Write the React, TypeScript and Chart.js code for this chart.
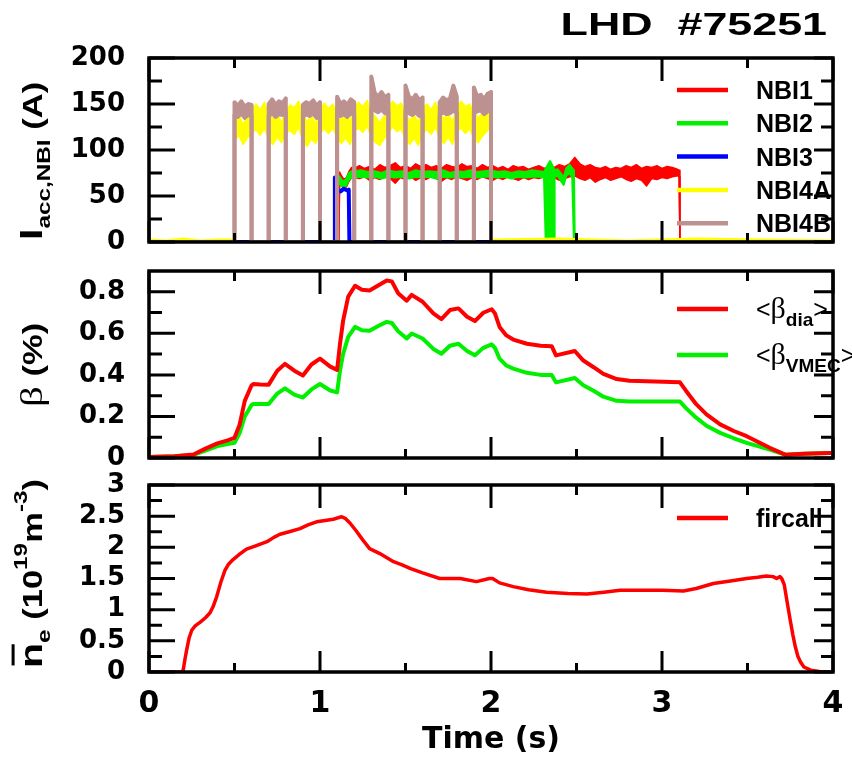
import React, { useEffect, useRef } from 'react';
import { Chart, registerables } from 'chart.js';

Chart.register(...registerables);

const SANS = '"DejaVu Sans", sans-serif';
const HELV = '"Liberation Sans", Arial, sans-serif';
const SERIF = '"Liberation Serif", "DejaVu Serif", serif';

const RED = 'rgb(255,0,0)';
const GREEN = 'rgb(0,240,0)';
const BLUE = 'rgb(0,0,255)';
const YELLOW = 'rgb(255,255,0)';
const BROWN = 'rgb(190,145,145)';

// ---------- x axis ----------
const X_MAJOR = [0, 1, 2, 3, 4];
const X_LABELS = ['0', '1', '2', '3', '4'];
const X_MINOR = [0.5, 1.5, 2.5, 3.5];

// ---------- panel 1 : NBI accelerator currents (A) ----------
const tRed = [
  0, 1.11, 1.115, 1.125, 1.14, 1.155, 1.17, 1.185, 1.2, 1.23,
  1.26, 1.29, 1.32, 1.35, 1.38, 1.41, 1.44, 1.47, 1.5, 1.53,
  1.56, 1.59, 1.62, 1.65, 1.68, 1.71, 1.74, 1.77, 1.8, 1.83,
  1.86, 1.89, 1.92, 1.95, 1.98, 2.01, 2.04, 2.07, 2.1, 2.13,
  2.16, 2.19, 2.22, 2.25, 2.28, 2.31, 2.34, 2.37, 2.4, 2.43,
  2.46, 2.49, 2.52, 2.55, 2.58, 2.61, 2.64, 2.67, 2.7, 2.73,
  2.76, 2.79, 2.82, 2.85, 2.88, 2.91, 2.94, 2.97, 3.0, 3.03,
  3.06, 3.09, 3.1, 3.105, 4,
];
const nbi1Hi = [
  0, 0, 76, 72, 68, 70, 77, 81, 80, 83,
  80, 82, 79, 84, 81, 83, 86, 81, 83, 80,
  85, 82, 84, 81, 83, 80, 84, 82, 81, 85,
  82, 83, 80, 84, 81, 83, 80, 82, 79, 83,
  81, 82, 79, 81, 83, 80, 82, 81, 84, 82,
  85, 92, 85, 82, 84, 81, 80, 82, 79, 81,
  80, 83, 81, 84, 80, 82, 81, 83, 80, 82,
  81, 79, 78, 0, 0,
];
const nbi1Lo = [
  0, 0, 66, 62, 59, 60, 66, 70, 70, 69,
  71, 67, 70, 68, 71, 69, 64, 70, 68, 71,
  67, 70, 68, 71, 69, 66, 70, 68, 71, 69,
  67, 70, 68, 71, 69, 67, 70, 68, 71, 69,
  67, 70, 68, 70, 69, 71, 68, 70, 67, 69,
  71, 72, 69, 67, 70, 65, 68, 70, 67, 69,
  71, 68, 66, 69, 67, 61, 69, 68, 70, 69,
  71, 72, 71, 0, 0,
];

const tGreen = [
  0, 1.09, 1.095, 1.11, 1.125, 1.14, 1.155, 1.17, 1.185, 1.2,
  1.24, 1.28, 1.32, 1.36, 1.4, 1.44, 1.48, 1.52, 1.56, 1.6,
  1.64, 1.68, 1.72, 1.76, 1.8, 1.84, 1.88, 1.92, 1.96, 2.0,
  2.04, 2.08, 2.12, 2.16, 2.2, 2.24, 2.28, 2.31, 2.32, 2.345,
  2.37, 2.372, 2.39, 2.41, 2.425, 2.44, 2.46, 2.475, 2.485, 2.49,
  4,
];
const nbi2Hi = [
  0, 0, 74, 72, 68, 66, 69, 75, 77, 77,
  78, 76, 77, 75, 78, 76, 77, 75, 78, 76,
  77, 76, 78, 75, 77, 76, 78, 76, 77, 78,
  76, 77, 75, 77, 76, 78, 77, 76, 80, 88,
  79, 78, 79, 74, 70, 80, 84, 80, 78, 0,
  0,
];
const nbi2Lo = [
  0, 0, 66, 64, 61, 59, 62, 68, 70, 70,
  71, 70, 71, 69, 71, 70, 71, 69, 71, 70,
  71, 69, 71, 70, 71, 70, 71, 70, 71, 71,
  70, 71, 69, 71, 70, 71, 71, 70, 0, 0,
  0, 71, 72, 66, 62, 72, 75, 70, 0, 0,
  0,
];

const tBlue = [0, 1.085, 1.087, 1.093, 1.1, 1.12, 1.14, 1.16, 1.168, 1.172, 4];
const nbi3 = [0, 0, 70, 60, 57, 55, 58, 56, 57, 0, 0];

const tYellow = [
  0, 0.1, 0.2, 0.3, 0.4, 0.499,
  0.5, 0.525, 0.55, 0.575, 0.6, 0.625, 0.65, 0.675, 0.7, 0.725,
  0.75, 0.775, 0.8, 0.825, 0.85, 0.875, 0.9, 0.925, 0.95, 0.975,
  1.0, 1.025, 1.05, 1.075, 1.1, 1.125, 1.15, 1.175, 1.2, 1.225,
  1.25, 1.275, 1.3, 1.325, 1.35, 1.375, 1.4, 1.425, 1.45, 1.475,
  1.5, 1.525, 1.55, 1.575, 1.6, 1.625, 1.65, 1.675, 1.7, 1.725,
  1.75, 1.775, 1.8, 1.825, 1.85, 1.875, 1.9, 1.925, 1.95, 1.975,
  2.0,
  2.003, 2.4, 2.8, 3.2, 3.6, 4,
];
const nbi4aHi = [
  3, 2, 4, 2, 3, 3,
  132, 138, 128, 136, 142, 150, 144, 152, 140, 134,
  139, 130, 143, 149, 146, 153, 138, 131, 137, 129,
  144, 151, 145, 150, 140, 133, 138, 131, 145, 152,
  147, 154, 141, 136, 130, 137, 146, 153, 148, 151,
  139, 132, 138, 130, 145, 150, 144, 152, 140, 134,
  139, 131, 146, 153, 147, 150, 141, 135, 140, 150,
  158,
  3, 4, 2, 4, 3, 2,
];
const nbi4aLo = [
  0, 0, 0, 0, 0, 0,
  110, 116, 106, 113, 118, 122, 116, 124, 112, 106,
  114, 108, 119, 121, 117, 125, 110, 104, 112, 107,
  118, 123, 118, 124, 113, 107, 113, 106, 120, 124,
  119, 126, 114, 108, 105, 112, 119, 125, 120, 123,
  111, 106, 113, 105, 118, 122, 117, 125, 112, 107,
  114, 106, 120, 124, 118, 123, 113, 108, 115, 120,
  126,
  0, 0, 0, 0, 0, 0,
];

const tBrown = [
  0,
  0.5, 0.5, 0.52, 0.54, 0.56, 0.58, 0.6, 0.6,
  0.7, 0.7, 0.72, 0.74, 0.76, 0.78, 0.8, 0.8,
  0.9, 0.9, 0.92, 0.94, 0.96, 0.98, 1.0, 1.0,
  1.1, 1.1, 1.12, 1.14, 1.16, 1.18, 1.2, 1.2,
  1.3, 1.3, 1.32, 1.34, 1.36, 1.38, 1.4, 1.4,
  1.5, 1.5, 1.52, 1.54, 1.56, 1.58, 1.6, 1.6,
  1.7, 1.7, 1.72, 1.74, 1.76, 1.78, 1.8, 1.8,
  1.9, 1.9, 1.92, 1.94, 1.96, 1.98, 2.0, 2.0,
  4,
];
const nbi4bHi = [
  0,
  0, 152, 148, 153, 147, 150, 149, 0,
  0, 150, 155, 149, 153, 151, 156, 0,
  0, 149, 152, 150, 154, 148, 152, 0,
  0, 158, 150, 153, 149, 155, 152, 0,
  0, 180, 162, 158, 163, 157, 160, 0,
  0, 170, 158, 155, 160, 154, 157, 0,
  0, 152, 157, 154, 156, 170, 158, 0,
  0, 168, 158, 160, 155, 161, 163, 0,
  0,
];
const nbi4bLo = [
  0,
  0, 138, 136, 140, 135, 138, 137, 0,
  0, 137, 140, 136, 139, 138, 141, 0,
  0, 136, 139, 137, 140, 135, 139, 0,
  0, 142, 137, 139, 136, 140, 138, 0,
  0, 145, 143, 141, 144, 140, 142, 0,
  0, 142, 140, 138, 141, 137, 139, 0,
  0, 138, 141, 139, 140, 143, 140, 0,
  0, 140, 142, 143, 139, 142, 145, 0,
  0,
];
const nbiTicks = [0, 50, 100, 150, 200];
const nbiLabels = ['0', '50', '100', '150', '200'];
const nbiMinor = [25, 75, 125, 175];

// ---------- panel 2 : beta (%) ----------
const tBeta = [
  0, 0.15, 0.26, 0.33, 0.4, 0.46, 0.5, 0.53, 0.56, 0.6,
  0.61, 0.65, 0.7, 0.75, 0.795, 0.85, 0.9, 0.95, 1.0, 1.06,
  1.1, 1.117, 1.135, 1.165, 1.205, 1.245, 1.29, 1.34, 1.39, 1.42,
  1.457, 1.507, 1.536, 1.6, 1.663, 1.71, 1.76, 1.81, 1.86, 1.906,
  1.955, 2.004, 2.023, 2.05, 2.09, 2.13, 2.21, 2.29, 2.355, 2.38,
  2.49, 2.54, 2.6, 2.657, 2.735, 2.81, 3.105, 3.14, 3.2, 3.26,
  3.34, 3.42, 3.495, 3.63, 3.72, 3.83, 3.98, 4.0,
];
const betaDia = [
  0.005, 0.008, 0.017, 0.045, 0.07, 0.085, 0.097, 0.16, 0.275, 0.35,
  0.356, 0.354, 0.353, 0.42, 0.453, 0.42, 0.397, 0.45, 0.478, 0.44,
  0.424, 0.55, 0.66, 0.777, 0.829, 0.81, 0.806, 0.83, 0.854, 0.85,
  0.793, 0.757, 0.785, 0.752, 0.696, 0.668, 0.712, 0.72, 0.68, 0.659,
  0.699, 0.716, 0.696, 0.631, 0.59, 0.57, 0.55, 0.54, 0.538, 0.494,
  0.515, 0.469, 0.437, 0.405, 0.38, 0.372, 0.364, 0.324, 0.259, 0.21,
  0.162, 0.13, 0.105, 0.049, 0.016, 0.02, 0.024, 0.024,
];
const betaVmec = [
  0.005, 0.008, 0.015, 0.035, 0.057, 0.067, 0.073, 0.12, 0.2, 0.255,
  0.26, 0.26, 0.26, 0.31, 0.335, 0.305, 0.291, 0.33, 0.356, 0.325,
  0.316, 0.42, 0.5, 0.583, 0.631, 0.615, 0.612, 0.635, 0.655, 0.65,
  0.61, 0.575, 0.599, 0.575, 0.525, 0.502, 0.54, 0.55, 0.515, 0.494,
  0.53, 0.547, 0.53, 0.478, 0.445, 0.43, 0.41, 0.4, 0.4, 0.364,
  0.385, 0.35, 0.324, 0.295, 0.275, 0.272, 0.272, 0.24, 0.194, 0.155,
  0.121, 0.095, 0.073, 0.041, 0.016, 0.02, 0.024, 0.024,
];
const betaTicks = [0, 0.2, 0.4, 0.6, 0.8];
const betaLabels = ['0', '0.2', '0.4', '0.6', '0.8'];
const betaMinor = [0.1, 0.3, 0.5, 0.7];

// ---------- panel 3 : line-averaged density (1e19 m^-3) ----------
const tNe = [
  0, 0.19, 0.2, 0.21, 0.22, 0.235, 0.25, 0.27, 0.3, 0.33,
  0.357, 0.375, 0.396, 0.42, 0.444, 0.465, 0.49, 0.53, 0.57, 0.62,
  0.69, 0.73, 0.766, 0.82, 0.883, 0.93, 0.98, 1.03, 1.078, 1.1,
  1.127, 1.15, 1.175, 1.21, 1.25, 1.29, 1.35, 1.43, 1.48, 1.53,
  1.6, 1.7, 1.76, 1.82, 1.915, 1.99, 2.01, 2.05, 2.13, 2.22,
  2.325, 2.45, 2.56, 2.66, 2.755, 2.9, 3.0, 3.125, 3.2, 3.3,
  3.4, 3.495, 3.56, 3.61, 3.65, 3.67, 3.69, 3.7, 3.715, 3.73,
  3.75, 3.765, 3.78, 3.795, 3.81, 3.83, 3.87, 3.92, 4.0,
];
const neFir = [
  0, 0, 0.03, 0.2, 0.35, 0.55, 0.67, 0.74, 0.8, 0.87,
  0.95, 1.05, 1.21, 1.44, 1.63, 1.73, 1.8, 1.89, 1.97, 2.02,
  2.09, 2.16, 2.21, 2.25, 2.3, 2.36, 2.41, 2.43, 2.45, 2.47,
  2.49, 2.46, 2.39, 2.27, 2.12, 1.98, 1.9, 1.77, 1.72, 1.66,
  1.59, 1.5, 1.5, 1.5, 1.45, 1.5, 1.5, 1.43, 1.37, 1.32,
  1.28, 1.26, 1.25, 1.28, 1.31, 1.31, 1.31, 1.3, 1.34, 1.42,
  1.46, 1.5, 1.52, 1.54, 1.53, 1.5, 1.53, 1.5, 1.4, 1.15,
  0.83, 0.6, 0.4, 0.25, 0.16, 0.08, 0.03, 0.01, 0,
];
const neTicks = [0, 0.5, 1, 1.5, 2, 2.5, 3];
const neLabels = ['0', '0.5', '1', '1.5', '2', '2.5', '3'];
const neMinor = [0.25, 0.75, 1.25, 1.75, 2.25, 2.75];

// ---------- helpers ----------
type Part = { t: string; size: number; bold?: boolean; fam?: string; dy?: number; over?: boolean };

const pts = (t: number[], v: number[]) => t.map((x, i) => ({ x, y: v[i] }));

function drawParts(ctx: CanvasRenderingContext2D, parts: Part[], x: number, y: number) {
  let cx = x;
  for (const p of parts) {
    ctx.font = `${p.bold ? 'bold ' : ''}${p.size}px ${p.fam || HELV}`;
    const w = ctx.measureText(p.t).width;
    ctx.fillText(p.t, cx, y + (p.dy || 0));
    if (p.over) ctx.fillRect(cx + 2, y - p.size * 0.95, w - 3, 3);
    cx += w;
  }
}

const decor = {
  id: 'decor',
  afterDatasetsDraw(chart: any, _args: any, o: any) {
    const { ctx, chartArea: a } = chart;
    const xs = chart.scales.x;
    const ys = chart.scales.y;
    ctx.save();
    ctx.strokeStyle = '#000';
    ctx.lineWidth = 3;
    ctx.lineCap = 'butt';
    ctx.beginPath();
    const xt = (vals: number[], lt: number, lb: number) =>
      vals.forEach((v) => {
        const p = xs.getPixelForValue(v);
        ctx.moveTo(p, a.top);
        ctx.lineTo(p, a.top + lt);
        ctx.moveTo(p, a.bottom);
        ctx.lineTo(p, a.bottom - lb);
      });
    const yt = (vals: number[], ll: number, lr: number) =>
      vals.forEach((v) => {
        const p = ys.getPixelForValue(v);
        ctx.moveTo(a.left, p);
        ctx.lineTo(a.left + ll, p);
        ctx.moveTo(a.right, p);
        ctx.lineTo(a.right - lr, p);
      });
    xt(X_MAJOR, 23, 21);
    xt(X_MINOR, 10, 9);
    yt(o.yMajor, 26, 19);
    yt(o.yMinor, 13, 12);
    ctx.stroke();
    ctx.lineWidth = 3.5;
    ctx.strokeRect(a.left, a.top, a.right - a.left, a.bottom - a.top);

    // legend
    ctx.fillStyle = '#000';
    ctx.textBaseline = 'alphabetic';
    ctx.textAlign = 'left';
    o.legend.forEach((it: any, i: number) => {
      const y = a.top + o.legTop + i * o.legGap;
      ctx.strokeStyle = it.color;
      ctx.lineWidth = 4.5;
      ctx.beginPath();
      ctx.moveTo(a.right - 156, y);
      ctx.lineTo(a.right - 105, y);
      ctx.stroke();
      drawParts(ctx, it.parts, a.right - 77, y + 9);
    });

    // y axis title (rotated)
    ctx.save();
    ctx.translate(o.yTitle.x, o.yTitle.y);
    ctx.rotate(-Math.PI / 2);
    ctx.scale(1.28, 1);
    drawParts(ctx, o.yTitle.parts, 0, 0);
    ctx.restore();

    // main title
    if (o.title) {
      ctx.save();
      ctx.translate(o.title.x, o.title.y);
      ctx.scale(1.4, 1);
      ctx.font = `bold 32px ${HELV}`;
      ctx.textAlign = 'right';
      ctx.fillText(o.title.text, 0, 0);
      ctx.restore();
    }
    ctx.restore();
  },
};

function makeConfig(p: any) {
  return {
    type: 'line',
    data: { datasets: p.datasets },
    options: {
      responsive: false,
      animation: false,
      devicePixelRatio: 1,
      events: [],
      layout: { padding: { left: 0, right: 19, top: p.padTop, bottom: p.padBottom } },
      elements: { point: { radius: 0 }, line: { tension: 0, borderJoinStyle: 'round' } },
      plugins: {
        legend: { display: false },
        tooltip: { enabled: false },
        decor: p.decor,
      },
      scales: {
        x: {
          type: 'linear',
          min: 0,
          max: 4,
          display: p.showX,
          grid: { display: false },
          border: { display: false },
          afterBuildTicks: (s: any) => {
            s.ticks = X_MAJOR.map((v) => ({ value: v }));
          },
          ticks: {
            callback: (_v: any, i: number) => X_LABELS[i],
            color: '#000',
            font: { family: SANS, weight: 'bold', size: 30 },
            padding: 6,
            maxRotation: 0,
            autoSkip: false,
          },
          title: {
            display: p.showX,
            text: 'Time (s)',
            color: '#000',
            font: { family: SANS, weight: 'bold', size: 30 },
            padding: { top: 0, bottom: 2 },
          },
          afterFit: (s: any) => {
            if (p.showX) s.height = 88;
          },
        },
        y: {
          type: 'linear',
          min: p.yMin,
          max: p.yMax,
          grid: { display: false },
          border: { display: false },
          afterBuildTicks: (s: any) => {
            s.ticks = p.yTicks.map((v: number) => ({ value: v }));
          },
          ticks: {
            callback: (_v: any, i: number) => p.yLabels[i],
            color: '#000',
            font: { family: SANS, weight: 'bold', size: 26 },
            padding: 16,
            autoSkip: false,
          },
          afterFit: (s: any) => {
            s.width = 149;
          },
        },
      },
    },
    plugins: [decor],
  } as any;
}

const band = (label: string, t: number[], lo: number[], hi: number[], color: string, w: number) => [
  { label: label + ' low', data: pts(t, lo), borderColor: color, borderWidth: w, fill: false },
  { label, data: pts(t, hi), borderColor: color, backgroundColor: color, borderWidth: w, fill: '-1' },
];

// canvases overlap; every plot area keeps >= 34 px of layout padding
const C1_TOP = 0, C1_H = 278;
const C2_TOP = 235, C2_H = 258;
const C3_TOP = 450, C3_H = 310;

function config1() {
  return makeConfig({
    datasets: [
      ...band('NBI4B', tBrown, nbi4bLo, nbi4bHi, BROWN, 4),
      ...band('NBI4A', tYellow, nbi4aLo, nbi4aHi, YELLOW, 1.5),
      { label: 'NBI3', data: pts(tBlue, nbi3), borderColor: BLUE, borderWidth: 4 },
      ...band('NBI2', tGreen, nbi2Lo, nbi2Hi, GREEN, 2),
      ...band('NBI1', tRed, nbi1Lo, nbi1Hi, RED, 1.5),
    ],
    padTop: 58 - C1_TOP,
    padBottom: C1_TOP + C1_H - 242,
    showX: false,
    yMin: 0,
    yMax: 200,
    yTicks: nbiTicks,
    yLabels: nbiLabels,
    decor: {
      yMajor: nbiTicks,
      yMinor: nbiMinor,
      legTop: 32,
      legGap: 33.3,
      legend: [
        { color: RED, parts: [{ t: 'NBI1', size: 25, bold: true }] },
        { color: GREEN, parts: [{ t: 'NBI2', size: 25, bold: true }] },
        { color: BLUE, parts: [{ t: 'NBI3', size: 25, bold: true }] },
        { color: YELLOW, parts: [{ t: 'NBI4A', size: 25, bold: true }] },
        { color: BROWN, parts: [{ t: 'NBI4B', size: 25, bold: true }] },
      ],
      yTitle: {
        x: 42,
        y: 240 - C1_TOP,
        parts: [
          { t: 'I', size: 32, bold: true },
          { t: 'acc,NBI', size: 19, bold: true, dy: 8 },
          { t: ' (A)', size: 27, bold: true },
        ],
      },
      title: { text: 'LHD  #75251', x: 827, y: 35 - C1_TOP },
    },
  });
}

function config2() {
  return makeConfig({
    datasets: [
      { label: '<βdia>', data: pts(tBeta, betaDia), borderColor: RED, borderWidth: 4 },
      { label: '<βVMEC>', data: pts(tBeta, betaVmec), borderColor: GREEN, borderWidth: 4 },
    ],
    padTop: 271 - C2_TOP,
    padBottom: C2_TOP + C2_H - 458,
    showX: false,
    yMin: 0,
    yMax: 0.9,
    yTicks: betaTicks,
    yLabels: betaLabels,
    decor: {
      yMajor: betaTicks,
      yMinor: betaMinor,
      legTop: 38,
      legGap: 46,
      legend: [
        {
          color: RED,
          parts: [
            { t: '<', size: 25 },
            { t: 'β', size: 30, fam: SERIF },
            { t: 'dia', size: 19, bold: true, dy: 8 },
            { t: '>', size: 25 },
          ],
        },
        {
          color: GREEN,
          parts: [
            { t: '<', size: 25 },
            { t: 'β', size: 30, fam: SERIF },
            { t: 'VMEC', size: 19, bold: true, dy: 8 },
            { t: '>', size: 25 },
          ],
        },
      ],
      yTitle: {
        x: 42,
        y: 407 - C2_TOP,
        parts: [
          { t: 'β', size: 32, fam: SERIF },
          { t: ' (%)', size: 27, bold: true },
        ],
      },
    },
  });
}

function config3() {
  return makeConfig({
    datasets: [{ label: 'fircall', data: pts(tNe, neFir), borderColor: RED, borderWidth: 3.5 }],
    padTop: 485 - C3_TOP,
    padBottom: 0,
    showX: true,
    yMin: 0,
    yMax: 3,
    yTicks: neTicks,
    yLabels: neLabels,
    decor: {
      yMajor: neTicks,
      yMinor: neMinor,
      legTop: 33,
      legGap: 0,
      legend: [{ color: RED, parts: [{ t: 'fircall', size: 25, bold: true }] }],
      yTitle: {
        x: 42,
        y: 668 - C3_TOP,
        parts: [
          { t: 'n', size: 32, bold: true, over: true },
          { t: 'e', size: 19, bold: true, dy: 8 },
          { t: ' (10', size: 27, bold: true },
          { t: '19', size: 19, bold: true, dy: -15 },
          { t: 'm', size: 27, bold: true },
          { t: '-3', size: 19, bold: true, dy: -15 },
          { t: ')', size: 27, bold: true },
        ],
      },
    },
  });
}

export default function App() {
  const r1 = useRef<HTMLCanvasElement>(null);
  const r2 = useRef<HTMLCanvasElement>(null);
  const r3 = useRef<HTMLCanvasElement>(null);

  useEffect(() => {
    const charts = [
      new Chart(r1.current as HTMLCanvasElement, config1()),
      new Chart(r2.current as HTMLCanvasElement, config2()),
      new Chart(r3.current as HTMLCanvasElement, config3()),
    ];
    return () => charts.forEach((c) => c.destroy());
  }, []);

  const cs = (top: number, h: number): React.CSSProperties => ({
    position: 'absolute',
    left: 0,
    top,
    width: 852,
    height: h,
  });

  return (
    <div style={{ position: 'absolute', left: 0, top: 0, width: 852, height: 760, background: '#fff', overflow: 'hidden' }}>
      <canvas ref={r1} width={852} height={C1_H} style={cs(C1_TOP, C1_H)} />
      <canvas ref={r2} width={852} height={C2_H} style={cs(C2_TOP, C2_H)} />
      <canvas ref={r3} width={852} height={C3_H} style={cs(C3_TOP, C3_H)} />
    </div>
  );
}
